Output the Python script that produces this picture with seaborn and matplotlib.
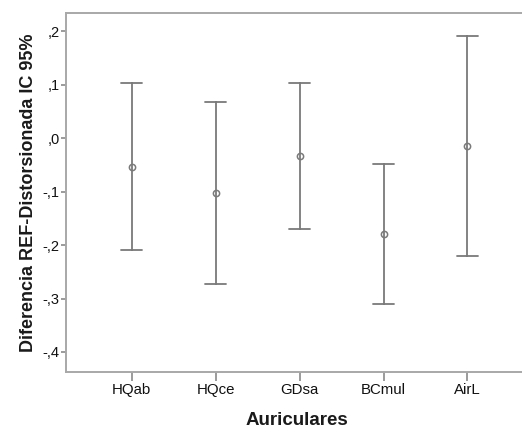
import matplotlib
matplotlib.use("Agg")
import matplotlib.pyplot as plt
import seaborn as sns
import pandas as pd
from matplotlib.ticker import FuncFormatter

categories = ["HQab", "HQce", "GDsa", "BCmul", "AirL"]
means = [-0.053, -0.102, -0.033, -0.179, -0.014]
lower = [-0.210, -0.273, -0.170, -0.310, -0.221]
upper = [0.104, 0.068, 0.104, -0.049, 0.192]
y_ticks = [0.2, 0.1, 0.0, -0.1, -0.2, -0.3, -0.4]

rows = []
for c, lo, m, hi in zip(categories, lower, means, upper):
    for v in (lo, m, hi):
        rows.append({"Auriculares": c, "val": v})
df = pd.DataFrame(rows)

sns.set_theme(style="white")
plt.rcParams["font.family"] = ["Liberation Sans", "DejaVu Sans"]

fig = plt.figure(figsize=(5.22, 4.28), dpi=100)
ax = fig.add_axes([66/522, (428-371.7)/428, 1 - 66/522 + 0.01, (371.7-13)/428])

gray = "#7a7a7a"
sns.pointplot(data=df, x="Auriculares", y="val", order=categories,
              estimator="median", errorbar=("pi", 100),
              linestyle="none", markers="o", capsize=0.25,
              color=gray, markerfacecolor="none", markeredgecolor=gray,
              markersize=4.5, markeredgewidth=1.1,
              err_kws={"linewidth": 1.3}, ax=ax)

ax.set_xlim(-0.783, 4.65 + 0.01 * 522 / 83.9)
ax.set_ylim(-0.437, 0.2346)
ax.set_yticks(y_ticks)

def fmt(v, pos):
    s = f"{v:.1f}".replace(".", ",")
    s = s.replace("0,", ",")
    if s == "-,0":
        s = ",0"
    return s

ax.yaxis.set_major_formatter(FuncFormatter(fmt))

for side in ["left", "bottom", "top"]:
    ax.spines[side].set_color("#a8a8a8")
    ax.spines[side].set_linewidth(1.4)
ax.spines["right"].set_visible(False)

ax.tick_params(axis="y", which="major", direction="out", length=3.6, width=1.1,
               color="#808080", labelcolor="#111111", labelsize=10.5, pad=1,
               left=True)
ax.tick_params(axis="x", which="major", direction="out", length=6.5, width=1.1,
               color="#808080", labelcolor="#111111", labelsize=10.8, pad=1.5,
               bottom=True)

ax.set_xlabel("Auriculares", fontsize=13.5, fontweight="bold", color="#1a1a1a", labelpad=11)
ax.set_ylabel("Diferencia REF-Distorsionada IC 95%", fontsize=13, fontweight="bold",
              color="#1a1a1a", labelpad=4)

fig.savefig("out.png", dpi=100)
